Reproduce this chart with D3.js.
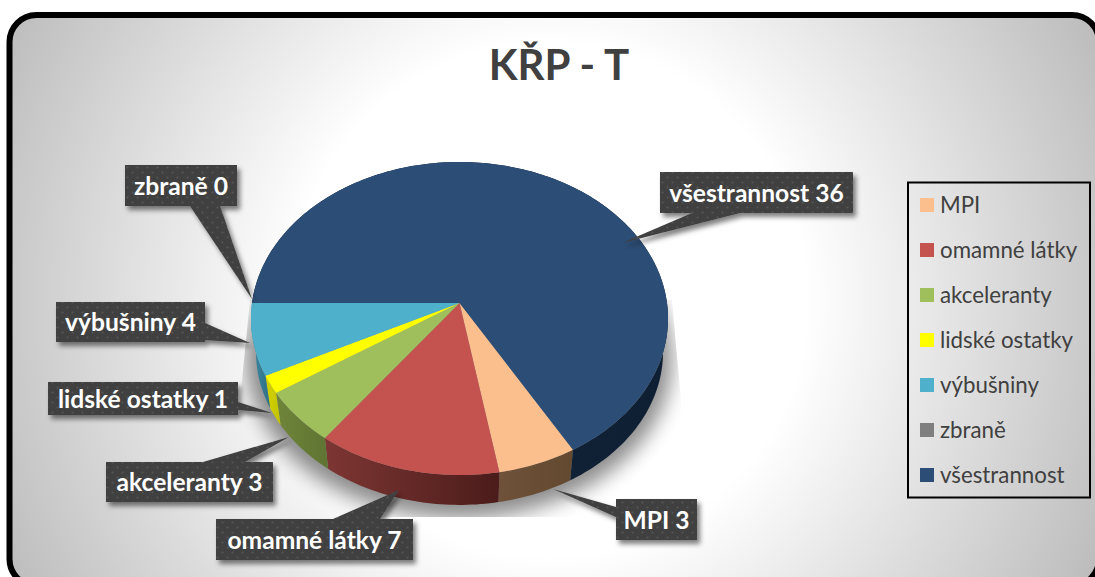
<!DOCTYPE html>
<html lang="cs">
<head>
<meta charset="utf-8">
<title>KŘP - T</title>
<script src="https://cdn.jsdelivr.net/npm/d3@7"></script>
<style>
	html, body { margin: 0; padding: 0; background: #fff; overflow: hidden; }
	text { font-family: Lato, "Open Sans", sans-serif; }
</style>
</head>
<body>
<div id="chart"></div>
<script>

	///////////////////////////////////////////////////////////////////////////
	/////////////////////////////////// Data //////////////////////////////////
	///////////////////////////////////////////////////////////////////////////

	var chartTitle = "KŘP - T";
	var categories = ["MPI", "omamné látky", "akceleranty", "lidské ostatky", "výbušniny", "zbraně", "všestrannost"];
	var values = [3, 7, 3, 1, 4, 0, 36];

	var topColors = ["#fbbf8e", "#c4524f", "#9fbf5d", "#ffff00", "#4fb0cb", "#7f7f7f", "#2c4d75"];
	var wallLeftColors = ["#6f5239", "#7d3633", "#6f8539", "#d2d200", "#3c8aa3", "#555555", "#14263f"];
	var wallRightColors = ["#62492f", "#4b1c1a", "#5f7433", "#c4c400", "#2f6f86", "#444444", "#0f1f33"];

	//Callout boxes in the same order as the categories: [x, y, width, height]
	var calloutBoxes = [
		[616, 499, 81, 41],
		[216, 519, 197, 41],
		[106, 462, 167, 40],
		[48, 382, 190, 33],
		[56, 302, 149, 40],
		[125, 165, 112, 41],
		[660, 172, 193, 41]
	];
	//Pointers of the callouts: [base x1, base y1, base x2, base y2, tip x, tip y]
	var calloutPointers = [
		[616, 507, 616, 517, 553, 489],
		[333, 519, 380, 519, 399, 490],
		[203, 462, 245, 462, 289, 437],
		[238, 402, 238, 410, 272, 413],
		[205, 323, 205, 340, 250, 343],
		[190, 206, 220, 206, 252, 299],
		[692, 213, 740, 213, 622, 243]
	];

	///////////////////////////////////////////////////////////////////////////
	//////////////////// Set up and initiate svg containers ///////////////////
	///////////////////////////////////////////////////////////////////////////

	var width = 1095,
		height = 577;

	var svg = d3.select("#chart").append("svg")
		.attr("width", width)
		.attr("height", height)
		.style("display", "block");

	var defs = svg.append("defs");

	//Background of the chart area
	var bgGradient = defs.append("radialGradient")
		.attr("id", "bgGradient")
		.attr("gradientUnits", "userSpaceOnUse")
		.attr("cx", 550)
		.attr("cy", 300)
		.attr("r", 610);
	bgGradient.append("stop").attr("offset", "0.42").attr("stop-color", "#ffffff");
	bgGradient.append("stop").attr("offset", "1").attr("stop-color", "#bcbcbc");

	//The dotted texture of the callouts
	var dots = defs.append("pattern")
		.attr("id", "dots")
		.attr("patternUnits", "userSpaceOnUse")
		.attr("width", 10)
		.attr("height", 10);
	dots.append("rect").attr("width", 10).attr("height", 10).attr("fill", "#3f3f3f");
	dots.append("circle").attr("cx", 2.5).attr("cy", 2.5).attr("r", 1.1).attr("fill", "#565656");
	dots.append("circle").attr("cx", 7.5).attr("cy", 7.5).attr("r", 1.1).attr("fill", "#565656");

	var calloutShadow = defs.append("filter")
		.attr("id", "calloutShadow")
		.attr("x", "-30%").attr("y", "-30%")
		.attr("width", "160%").attr("height", "170%");
	calloutShadow.append("feDropShadow")
		.attr("dx", 3).attr("dy", 4)
		.attr("stdDeviation", 2.5)
		.attr("flood-color", "#000")
		.attr("flood-opacity", 0.5);

	var pieBlur = defs.append("filter")
		.attr("id", "pieBlur")
		.attr("x", "-10%").attr("y", "-10%")
		.attr("width", "120%").attr("height", "120%");
	pieBlur.append("feGaussianBlur").attr("stdDeviation", 10);

	defs.append("clipPath").attr("id", "shadowClip")
		.append("path")
		.attr("d", "M250,300L240,400L240,517L681,517L681,400L672,300Z");

	//Rounded frame, runs off the page on the right and at the bottom
	svg.append("rect")
		.attr("x", 9.5)
		.attr("y", 15)
		.attr("width", 1089.5)
		.attr("height", 571)
		.attr("rx", 27)
		.attr("fill", "url(#bgGradient)")
		.attr("stroke", "#000")
		.attr("stroke-width", 6);

	svg.append("text")
		.attr("x", 559)
		.attr("y", 80)
		.attr("text-anchor", "middle")
		.style("font-size", "42px")
		.style("font-weight", 700)
		.style("fill", "#404040")
		.text(chartTitle);

	///////////////////////////////////////////////////////////////////////////
	//////////////////////////// General variables ////////////////////////////
	///////////////////////////////////////////////////////////////////////////

	var cx = 459.5,
		topY = 303,
		bottomY = 337,
		radiusX = 207.5,
		radiusY = 155,
		bottomScale = 0.976,
		perspective = 0.099;

	var pie = d3.pie()
		.sort(null)
		.value(function(d) { return d; })
		.startAngle(Math.PI * 5 / 6)
		.endAngle(Math.PI * 5 / 6 + Math.PI * 2);

	var slices = pie(values);

	var line = d3.line();

	//Screen position of an angle on the pie, seen in perspective
	function project(angle, r, y0, scale) {
		var u = r * Math.sin(angle),
			v = -r * Math.cos(angle),
			w = 1 - perspective * v;
		return [cx + scale * radiusX * u / w, y0 + scale * radiusY * v / w];
	}

	function rimPoints(d, y0, scale) {
		var n = Math.max(1, Math.ceil((d.endAngle - d.startAngle) / 0.02));
		return d3.range(n + 1).map(function(i) {
			return project(d.startAngle + (d.endAngle - d.startAngle) * i / n, 1, y0, scale);
		});
	}

	///////////////////////////////////////////////////////////////////////////
	/////////////////////////////// Draw the pie //////////////////////////////
	///////////////////////////////////////////////////////////////////////////

	//Soft shadow under the pie
	svg.append("g")
		.attr("clip-path", "url(#shadowClip)")
		.append("path")
		.attr("d", line(d3.range(0, 361, 2).map(function(a) {
			return project(a * Math.PI / 180, 1, bottomY + 6, 1.02);
		})) + "Z")
		.attr("fill", "#000")
		.attr("opacity", 0.45)
		.attr("filter", "url(#pieBlur)");

	var walls = defs.selectAll(".wallGradient")
		.data(slices)
		.enter().append("linearGradient")
		.attr("class", "wallGradient")
		.attr("id", function(d, i) { return "wall" + i; });
	walls.append("stop").attr("offset", "0").attr("stop-color", function(d, i) { return wallLeftColors[i]; });
	walls.append("stop").attr("offset", "1").attr("stop-color", function(d, i) { return wallRightColors[i]; });

	//Outer walls first, the top faces cover whatever is at the back
	svg.append("g").selectAll(".wall")
		.data(slices.filter(function(d) { return d.value > 0; }))
		.enter().append("path")
		.attr("class", "wall")
		.attr("fill", function(d) { return "url(#wall" + d.index + ")"; })
		.attr("d", function(d) {
			return line(rimPoints(d, topY, 1).concat(rimPoints(d, bottomY, bottomScale).reverse())) + "Z";
		});

	svg.append("g").selectAll(".slice")
		.data(slices.filter(function(d) { return d.value > 0; }))
		.enter().append("path")
		.attr("class", "slice")
		.attr("fill", function(d) { return topColors[d.index]; })
		.attr("d", function(d) {
			return line([project(0, 0, topY, 1)].concat(rimPoints(d, topY, 1))) + "Z";
		});

	///////////////////////////////////////////////////////////////////////////
	///////////////////////////// Draw the callouts ///////////////////////////
	///////////////////////////////////////////////////////////////////////////

	var callouts = svg.append("g").selectAll(".callout")
		.data(categories)
		.enter().append("g")
		.attr("class", "callout");

	callouts.append("path")
		.attr("fill", "url(#dots)")
		.attr("filter", "url(#calloutShadow)")
		.attr("d", function(d, i) {
			var b = calloutBoxes[i],
				p = calloutPointers[i];
			return "M" + b[0] + "," + b[1] + "h" + b[2] + "v" + b[3] + "h" + (-b[2]) + "Z" +
				"M" + p[0] + "," + p[1] + "L" + p[4] + "," + p[5] + "L" + p[2] + "," + p[3] + "Z";
		});

	callouts.append("text")
		.attr("x", function(d, i) { return calloutBoxes[i][0] + calloutBoxes[i][2] / 2; })
		.attr("y", function(d, i) { return calloutBoxes[i][1] + calloutBoxes[i][3] / 2 + 9; })
		.attr("text-anchor", "middle")
		.style("font-size", "24.6px")
		.style("font-weight", 700)
		.style("fill", "#fff")
		.text(function(d, i) { return d + " " + values[i]; });

	///////////////////////////////////////////////////////////////////////////
	////////////////////////////// Draw the legend ////////////////////////////
	///////////////////////////////////////////////////////////////////////////

	var legendY = d3.scalePoint()
		.domain(categories)
		.range([205, 475]);

	var legend = svg.append("g");

	legend.append("rect")
		.attr("x", 908)
		.attr("y", 182.5)
		.attr("width", 182)
		.attr("height", 315)
		.attr("fill", "none")
		.attr("stroke", "#000")
		.attr("stroke-width", 2);

	var legendItems = legend.selectAll(".legendItem")
		.data(categories)
		.enter().append("g")
		.attr("class", "legendItem")
		.attr("transform", function(d) { return "translate(920," + legendY(d) + ")"; });

	legendItems.append("rect")
		.attr("y", -7)
		.attr("width", 14)
		.attr("height", 14)
		.attr("fill", function(d, i) { return topColors[i]; });

	legendItems.append("text")
		.attr("x", 20)
		.attr("y", 7.5)
		.style("font-size", "22.3px")
		.style("fill", "#404040")
		.text(function(d) { return d; });

</script>
</body>
</html>
